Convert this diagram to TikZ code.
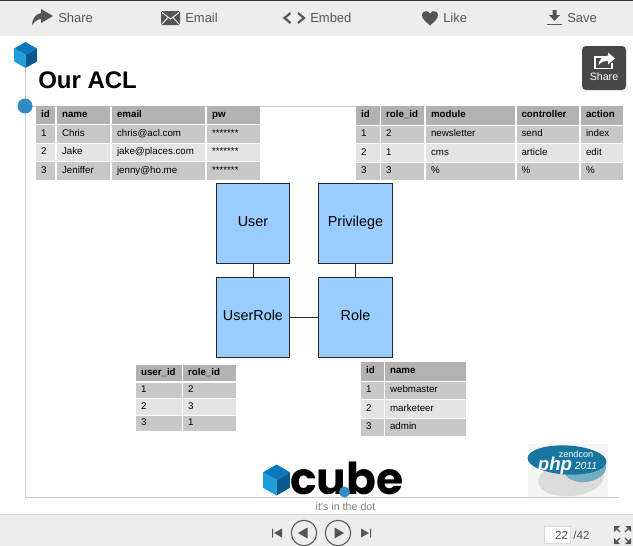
\documentclass[tikz,border=0pt]{standalone}
\usepackage{fontspec}
\setmainfont{Liberation Sans}
\newfontfamily\logofont{Poppins}
\usetikzlibrary{calc,positioning}
\definecolor{barbg}{HTML}{EDEDED}
\definecolor{barfg}{HTML}{555555}
\definecolor{framegray}{HTML}{C8C8C8}
\definecolor{headcol}{HTML}{B2B2B2}
\definecolor{oddcol}{HTML}{C8C8C8}
\definecolor{evencol}{HTML}{E4E4E4}
\definecolor{boxblue}{HTML}{99CCFF}
\definecolor{cubetop}{HTML}{0A78BE}
\definecolor{cubeleft}{HTML}{1E9FDC}
\definecolor{cuberight}{HTML}{07598F}
\definecolor{phpblue}{HTML}{17759F}
\tikzset{
  headcell/.style={fill=headcol,font=\fontsize{7.3}{9}\selectfont\bfseries},
  oddcell/.style={fill=oddcol,font=\fontsize{7.3}{9}\selectfont},
  evencell/.style={fill=evencol,font=\fontsize{7.3}{9}\selectfont},
  barlabel/.style={text=barfg,anchor=west,inner sep=0pt,text height=7pt,text depth=2pt,font=\fontsize{9.75}{12}\selectfont},
  entity/.style={draw=black!85,fill=boxblue,line width=0.75pt,inner sep=0pt,text height=8pt,text depth=2.3pt,minimum width=55pt,minimum height=60pt,font=\fontsize{10.8}{13}\selectfont},
  link/.style={draw=black!85,line width=0.75pt}
}
% one table row: name, row, style, top, bottom, {left/right/text,...}
\newcommand{\aclrow}[6]{
    \foreach \xa/\xb/\celltext [count=\c] in {#6} {
        \pgfmathsetmacro{\cellw}{(\xb-\xa)*0.75}
        \pgfmathsetmacro{\cellh}{(#5-#4)*0.75}
        \node[#3,anchor=north west,inner xsep=3.6pt,inner ysep=0pt,minimum width=\cellw pt,minimum height=\cellh pt,text width=\cellw pt-7.2pt,text height=5.3pt,text depth=2.5pt,align=left] (#1-#2-\c) at (\xa,#4) {\celltext};
    }
}
% cube logo: centre, radius
\newcommand{\aclcube}[2]{
    \fill[cubetop] ($(#1)+(0,-#2)$) -- ($(#1)+(0.87*#2,-0.5*#2)$) -- (#1) -- ($(#1)+(-0.87*#2,-0.5*#2)$) -- cycle;
    \fill[cubeleft] ($(#1)+(-0.87*#2,-0.5*#2)$) -- (#1) -- ($(#1)+(0,#2)$) -- ($(#1)+(-0.87*#2,0.5*#2)$) -- cycle;
    \fill[cuberight] ($(#1)+(0.87*#2,-0.5*#2)$) -- (#1) -- ($(#1)+(0,#2)$) -- ($(#1)+(0.87*#2,0.5*#2)$) -- cycle;
}
\begin{document}
\begin{tikzpicture}[x=0.75pt,y=-0.75pt]
    \useasboundingbox (0,0) rectangle (633,546);
    \fill[white] (0,0) rectangle (633,546);

    % top bar
    \fill[barbg] (0,0) rectangle (633,36);
    \fill[black!80] (0,0) rectangle (633,1.5);
    \fill[barfg] (53,16) -- (41,9) -- (41,13) .. controls (35,14) and (32,20) .. (32,25) .. controls (35,21) and (38,19) .. (41,19) -- (41,23) -- cycle;
    \node[barlabel] (sharelabel) at (58,19) {Share};
    \fill[barfg,rounded corners=1pt] (161,11) rectangle (180,25);
    \draw[barbg,line width=0.7pt] (162,12.5) -- (170.5,19) -- (179,12.5) (162,24) -- (168,17.5) (179,24) -- (173,17.5);
    \node[barlabel] (emaillabel) at (185,19) {Email};
    \draw[barfg,line width=1.6pt] (290.5,13) -- (284.5,18) -- (290.5,23);
    \draw[barfg,line width=1.6pt] (298,13) -- (304,18) -- (298,23);
    \node[barlabel] (embedlabel) at (310,19) {Embed};
    \fill[barfg] (430,25.5) .. controls (425,21) and (422,18.5) .. (422,15) .. controls (422,11) and (428,9.5) .. (430,13.5) .. controls (432,9.5) and (438,11) .. (438,15) .. controls (438,18.5) and (435,21) .. (430,25.5) -- cycle;
    \node[barlabel] (likelabel) at (443,19) {Like};
    \fill[barfg] (552.5,10) rectangle (556.5,15) (549,15) -- (560,15) -- (554.5,21) -- cycle;
    \fill[barfg] (547,23.5) rectangle (562,25);
    \node[barlabel] (savelabel) at (567,19) {Save};

    % frame lines
    \draw[framegray,line width=0.75pt] (25.5,62) -- (25.5,497.5) -- (618,497.5);
    \draw[framegray,line width=0.75pt] (25.5,106.5) -- (360,106.5);

    \aclcube{25.5,55}{13}
    \fill[cubetop!85!white] (25,106) circle (7.5);
    \node[anchor=west,inner sep=0pt,font=\fontsize{18}{22}\selectfont\bfseries] (title) at (38,80) {Our ACL};

    % share button
    \fill[black!72,rounded corners=3pt] (582,46) rectangle (626,90);
    \draw[white,line width=1pt] (607,57) -- (595,57) -- (595,68.5) -- (612,68.5) -- (612,63);
    \fill[white] (615,58.5) -- (608,52.5) -- (608,55.5) .. controls (602,56) and (599,60) .. (598.5,65) .. controls (601,62) and (604,61) .. (608,61) -- (608,64.5) -- cycle;
    \node[text=white,inner sep=0pt,font=\fontsize{8}{9}\selectfont] (sharebutton) at (604,77) {Share};

    % tables
    \aclrow{users}{0}{headcell}{106}{124}{36/55/id,57/110/name,112/205/email,207/260/pw}
    \aclrow{users}{1}{oddcell}{125}{143}{36/55/1,57/110/Chris,112/205/chris@acl.com,207/260/*******}
    \aclrow{users}{2}{evencell}{144}{161}{36/55/2,57/110/Jake,112/205/jake@places.com,207/260/*******}
    \aclrow{users}{3}{oddcell}{162}{180}{36/55/3,57/110/Jeniffer,112/205/jenny@ho.me,207/260/*******}

    \aclrow{privs}{0}{headcell}{106}{125}{356/380/id,381/424/role\_id,426/515/module,516.5/579/controller,581/623/action}
    \aclrow{privs}{1}{oddcell}{126}{143}{356/380/1,381/424/2,426/515/newsletter,516.5/579/send,581/623/index}
    \aclrow{privs}{2}{evencell}{144}{162}{356/380/2,381/424/1,426/515/cms,516.5/579/article,581/623/edit}
    \aclrow{privs}{3}{oddcell}{163}{180}{356/380/3,381/424/3,426/515/\%,516.5/579/\%,581/623/\%}

    \aclrow{userroles}{0}{headcell}{365}{381}{136/182/user\_id,183/236/role\_id}
    \aclrow{userroles}{1}{oddcell}{383}{398}{136/182/1,183/236/2}
    \aclrow{userroles}{2}{evencell}{399}{415}{136/182/2,183/236/3}
    \aclrow{userroles}{3}{oddcell}{416}{431}{136/182/3,183/236/1}

    \aclrow{roles}{0}{headcell}{362}{381}{361/383.5/id,385/466/name}
    \aclrow{roles}{1}{oddcell}{382}{399}{361/383.5/1,385/466/webmaster}
    \aclrow{roles}{2}{evencell}{400}{418}{361/383.5/2,385/466/marketeer}
    \aclrow{roles}{3}{oddcell}{419}{436}{361/383.5/3,385/466/admin}

    % entities
    \node[entity] (user) at (253,223) {User};
    \node[entity] (privilege) at (355.5,223) {Privilege};
    \node[entity] (userrole) at (253,317) {UserRole};
    \node[entity] (role) at (355.5,317) {Role};
    \draw[link] (user) -- (userrole);
    \draw[link] (privilege) -- (role);
    \draw[link] (userrole) -- (role);

    % cube logo
    \aclcube{276.5,480}{15.5}
    \node[anchor=base west,inner sep=0pt,text height=20pt,text depth=0pt,font=\logofont\bfseries\fontsize{33}{36}\selectfont,text=black] (cubeword) at (290,494) {cube};
    \fill[cubetop!85!white] (344.5,492) circle (5.5);
    \node[inner sep=0pt,text=black!50,text height=5.5pt,text depth=0pt,font=\fontsize{8}{9}\selectfont] (tagline) at (345.5,507) {it's in the dot};

    % conference logo
    \fill[black!4] (528,444) rectangle (608,497);
    \fill[black!14,rotate around={6:(571,479)}] (571,479) ellipse [x radius=33,y radius=17];
    \fill[phpblue!60!white,rotate around={6:(585,469)}] (585,469) ellipse [x radius=21,y radius=13];
    \fill[phpblue,rotate around={-3:(567,460)}] (567,460) ellipse [x radius=39.5,y radius=14.5];
    \node[text=white,inner sep=0pt,text height=8pt,text depth=3pt,font=\fontsize{14}{16}\selectfont\bfseries\itshape] (phpword) at (555,467) {php};
    \node[text=white,inner sep=0pt,text height=5.5pt,text depth=0pt,font=\fontsize{7.8}{9}\selectfont\itshape] (phpyear) at (586,466) {2011};
    \node[text=white,inner sep=0pt,text height=4pt,text depth=0pt,font=\fontsize{6.8}{8}\selectfont] (phpzend) at (576,454.5) {zendcon};

    % bottom bar
    \fill[barbg] (0,514) rectangle (633,546);
    \draw[black!15,line width=0.75pt] (0,514) -- (633,514);
    \fill[barfg] (272,528.5) rectangle (273,537.5) (282,528.5) -- (282,537.5) -- (274,533) -- cycle;
    \draw[barfg,line width=0.8pt] (304,533) circle (12.7);
    \fill[barfg] (298,533) -- (307.5,527.5) -- (307.5,538.5) -- cycle;
    \draw[barfg,line width=0.8pt] (338,533) circle (12.7);
    \fill[barfg] (344,533) -- (334.5,527.5) -- (334.5,538.5) -- cycle;
    \fill[barfg] (370,528.5) rectangle (371,537.5) (361,528.5) -- (361,537.5) -- (369,533) -- cycle;
    \fill[white] (544,526) rectangle (570,543);
    \draw[black!15] (544,526) rectangle (570,543);
    \node[anchor=east,inner sep=0pt,text=barfg,font=\fontsize{8.8}{11}\selectfont] (pagenum) at (568.5,535) {22};
    \node[anchor=west,inner sep=0pt,text=barfg,font=\fontsize{8.8}{11}\selectfont] (pagetotal) at (573,535) {/42};
    \fill[barfg] (614,526) -- (620,526) -- (614,532) -- cycle (631,526) -- (625,526) -- (631,532) -- cycle (614,544) -- (620,544) -- (614,538) -- cycle (631,544) -- (625,544) -- (631,538) -- cycle;
    \draw[barfg,line width=1pt] (615,527) -- (620,532) (630,527) -- (625,532) (615,543) -- (620,538) (630,543) -- (625,538);
\end{tikzpicture}
\end{document}
